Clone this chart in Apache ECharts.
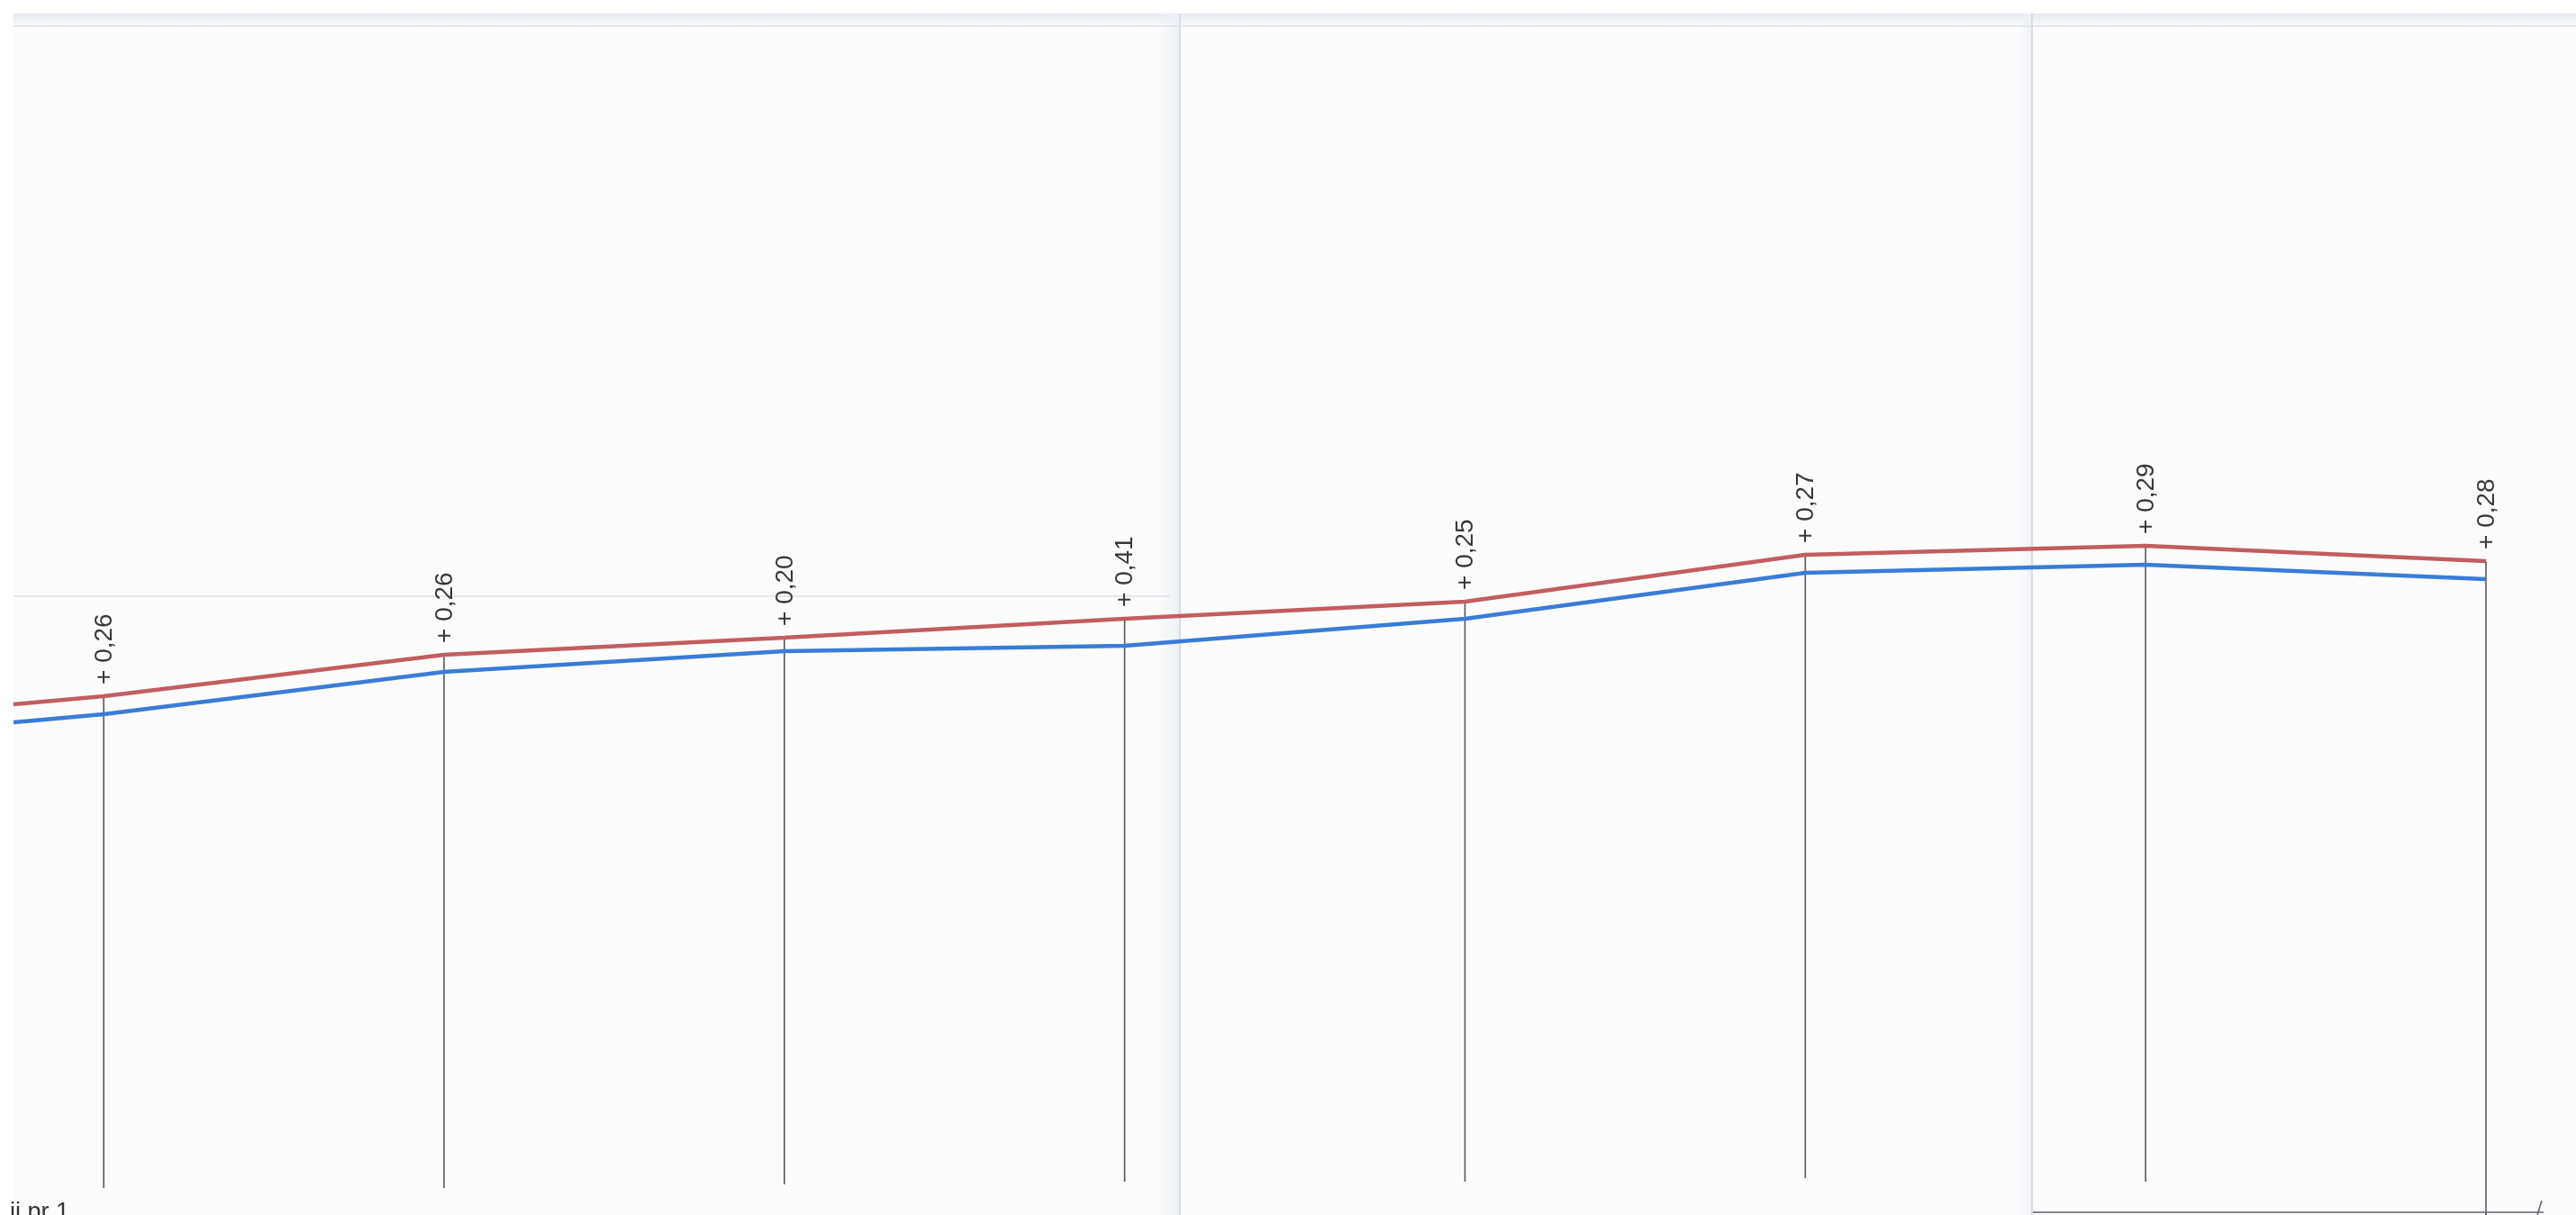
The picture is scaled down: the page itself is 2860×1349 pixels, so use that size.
<!DOCTYPE html>
<html>
<head>
<meta charset="utf-8">
<script src="https://cdn.jsdelivr.net/npm/echarts@6/dist/echarts.min.js"></script>
<style>
html,body{margin:0;padding:0;background:#ffffff;}
#chart{width:2860px;height:1349px;}
</style>
</head>
<body>
<div id="chart"></div>
<script>
// Station positions (profile stations, first point is the profile start before station 0)
var stations = [-0.265, 0, 1, 2, 3, 4, 5, 6, 7];
// Upper (red) profile line heights
var redLine = [56.7, 57.6, 62.2, 64.1, 66.2, 68.1, 73.3, 74.3, 72.6];
// Lower (blue) profile line heights
var blueLine = [54.7, 55.6, 60.3, 62.6, 63.2, 66.2, 71.3, 72.2, 70.6];
// Station marker texts
var stationLabels = ['+ 0,26', '+ 0,26', '+ 0,20', '+ 0,41', '+ 0,25', '+ 0,27', '+ 0,29', '+ 0,28'];
// Lower end of each station's vertical line
var stationBottoms = [3.0, 3.0, 3.4, 3.7, 3.7, 4.1, 3.7, -1];
var cornerText = 'ii pr 1';

var chart = echarts.init(document.getElementById('chart'), null, {renderer: 'canvas'});

var redData = stations.map(function (s, i) { return [s, redLine[i]]; });
var blueData = stations.map(function (s, i) { return [s, blueLine[i]]; });
var stationData = [];
for (var i = 1; i < stations.length; i++) {
  stationData.push([stations[i], redLine[i], stationBottoms[i - 1], stationLabels[i - 1]]);
}

var option = {
  backgroundColor: '#ffffff',
  animation: false,
  grid: {left: 15, right: 100, top: 0, bottom: 0},
  xAxis: {type: 'value', min: -0.265, max: 7, show: false},
  yAxis: {type: 'value', min: 0, max: 134.9, show: false},
  graphic: [
    // scanned paper area
    {type: 'rect', z: -10, shape: {x: 15, y: 15, width: 2845, height: 1334}, style: {fill: '#fcfcfd'}},
    // top paper edge band
    {type: 'rect', z: -9, shape: {x: 15, y: 15, width: 2845, height: 14},
      style: {fill: new echarts.graphic.LinearGradient(0, 0, 0, 1, [{offset: 0, color: '#e6ebf0'}, {offset: 1, color: '#f7f8fa'}])}},
    {type: 'line', z: -8, shape: {x1: 15, y1: 29, x2: 2860, y2: 29}, style: {stroke: '#dde1e6', lineWidth: 1.5}},
    // faint horizontal line on the left sheet
    {type: 'line', z: -8, shape: {x1: 15, y1: 662, x2: 1300, y2: 662}, style: {stroke: '#e6e8ec', lineWidth: 2}},
    // fold 1
    {type: 'rect', z: -9, shape: {x: 1284, y: 15, width: 26, height: 1334},
      style: {fill: new echarts.graphic.LinearGradient(0, 0, 1, 0, [{offset: 0, color: 'rgba(236,240,248,0)'}, {offset: 1, color: '#ecf0f7'}])}},
    {type: 'line', z: -8, shape: {x1: 1310, y1: 15, x2: 1310, y2: 1349}, style: {stroke: '#d8dce3', lineWidth: 2}},
    // fold 2
    {type: 'rect', z: -9, shape: {x: 2242, y: 15, width: 14, height: 1334},
      style: {fill: new echarts.graphic.LinearGradient(0, 0, 1, 0, [{offset: 0, color: 'rgba(236,240,248,0)'}, {offset: 1, color: '#f0f2f7'}])}},
    {type: 'line', z: -8, shape: {x1: 2256, y1: 15, x2: 2256, y2: 1349}, style: {stroke: '#d8dbe0', lineWidth: 2}},
    // bottom reference line and end tick
    {type: 'line', z: 5, shape: {x1: 2257, y1: 1346, x2: 2824, y2: 1346}, style: {stroke: '#5b6068', lineWidth: 1.5}},
    {type: 'line', z: 5, shape: {x1: 2817, y1: 1349, x2: 2822, y2: 1333}, style: {stroke: '#5b6068', lineWidth: 1.5}},
    // corner text
    {type: 'text', z: 5, x: 11, y: 1333,
      style: {text: cornerText, font: '27px "Liberation Sans", Arial, sans-serif', fill: '#333333', verticalAlign: 'top', align: 'left'}}
  ],
  series: [
    {
      type: 'custom',
      z: 1,
      data: stationData,
      encode: {x: 0, y: 1},
      renderItem: function (params, api) {
        var top = api.coord([api.value(0), api.value(1)]);
        var bottom = api.coord([api.value(0), api.value(2)]);
        return {
          type: 'group',
          children: [
            {type: 'line', shape: {x1: top[0], y1: top[1], x2: bottom[0], y2: bottom[1]},
              style: {stroke: '#55585e', lineWidth: 1.6}},
            {type: 'text', x: top[0] + 1, y: top[1] - 13, rotation: Math.PI / 2,
              style: {text: api.value(3), x: 0, y: 0, fill: '#38383c',
                font: '28px "Liberation Sans", Arial, sans-serif', align: 'left', verticalAlign: 'middle'}}
          ]
        };
      }
    },
    {
      type: 'line', z: 3, data: redData, symbol: 'none', clip: false,
      lineStyle: {color: '#c25d61', width: 4.5}
    },
    {
      type: 'line', z: 3, data: blueData, symbol: 'none', clip: false,
      lineStyle: {color: '#3a7cd6', width: 4.5}
    }
  ]
};
chart.setOption(option);
</script>
</body>
</html>
